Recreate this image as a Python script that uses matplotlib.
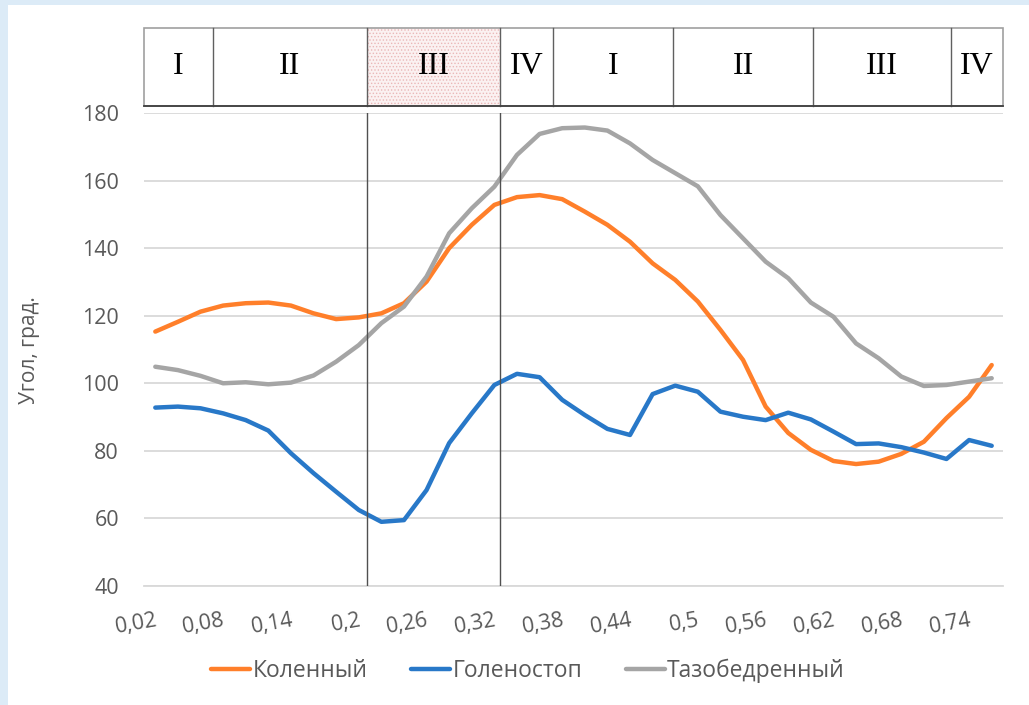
import numpy as np
import matplotlib
matplotlib.use('Agg')
import matplotlib.pyplot as plt
from matplotlib.patches import Rectangle

# phase of gait cycle, s
t_labels = ['0,02', '0,04', '0,06', '0,08', '0,1', '0,12', '0,14', '0,16', '0,18', '0,2',
            '0,22', '0,24', '0,26', '0,28', '0,3', '0,32', '0,34', '0,36', '0,38', '0,4',
            '0,42', '0,44', '0,46', '0,48', '0,5', '0,52', '0,54', '0,56', '0,58', '0,6',
            '0,62', '0,64', '0,66', '0,68', '0,7', '0,72', '0,74', '0,76']

knee = [115.3, 118.2, 121.2, 123.0, 123.7, 123.9, 123.0, 120.7, 119.0, 119.5, 120.7, 123.7,
        130.1, 140.0, 146.9, 152.8, 155.1, 155.7, 154.5, 150.8, 146.9, 141.9, 135.5, 130.6,
        124.2, 115.8, 106.9, 93.1, 85.3, 80.3, 77.0, 76.1, 76.8, 79.1, 82.7, 89.7, 96.0, 105.4]
ankle = [92.8, 93.1, 92.6, 91.1, 89.1, 86.0, 79.3, 73.4, 67.9, 62.5, 59.0, 59.5,
         68.4, 82.3, 91.1, 99.5, 102.8, 101.8, 95.1, 90.6, 86.5, 84.7, 96.8, 99.3,
         97.5, 91.6, 90.1, 89.1, 91.3, 89.3, 85.7, 82.0, 82.2, 81.1, 79.5, 77.6, 83.2, 81.5]
hip = [104.9, 103.9, 102.2, 100.0, 100.3, 99.7, 100.2, 102.3, 106.4, 111.3, 117.8, 122.7,
       131.6, 144.4, 151.8, 158.2, 167.6, 173.8, 175.5, 175.7, 174.8, 171.0, 166.1, 162.2,
       158.3, 149.8, 142.9, 136.0, 131.1, 123.9, 119.7, 111.8, 107.4, 102.0, 99.2, 99.5, 100.5, 101.5]

# phases (category-index boundaries)
phase_names = ['I', 'II', 'III', 'IV', 'I', 'II', 'III', 'IV']
phase_edges = [-0.5, 2.55, 9.36, 15.25, 17.59, 22.9, 29.1, 35.2, 37.5]
marked_lines = [9.36, 15.25]

plt.rcParams['font.family'] = ['Open Sans', 'DejaVu Sans']
plt.rcParams['hatch.linewidth'] = 0.6
txt_col = '#595959'

fig = plt.figure(figsize=(10.29, 7.05), dpi=100)
fig.patch.set_facecolor('white')
# light blue page edge
fig.patches.append(Rectangle((0, 0), 8 / 1029, 1, transform=fig.transFigure,
                             facecolor='#dcebf7', edgecolor='none', zorder=-10))
fig.patches.append(Rectangle((0, 1 - 5 / 705), 1, 5 / 705, transform=fig.transFigure,
                             facecolor='#dcebf7', edgecolor='none', zorder=-10))

ax = fig.add_axes([144 / 1029, 1 - 586 / 705, (1003 - 144) / 1029, (586 - 113) / 705])
ax.set_facecolor('white')
x = np.arange(len(t_labels))

ax.plot(x, knee, color='#FF7F2A', lw=3.2, label='Коленный', solid_capstyle='round')
ax.plot(x, ankle, color='#2878C8', lw=3.2, label='Голеностоп', solid_capstyle='round')
ax.plot(x, hip, color='#A5A5A5', lw=3.2, label='Тазобедренный', solid_capstyle='round')

for xv in marked_lines:
    ax.axvline(xv, color='#505050', lw=1, zorder=5)

ax.set_xlim(-0.5, len(t_labels) - 0.5)
ax.set_ylim(40, 180)
ax.set_yticks(range(40, 181, 20))
ax.grid(axis='y', color='#d9d9d9', lw=1.3)
ax.set_axisbelow(True)
for s in ['left', 'right', 'top']:
    ax.spines[s].set_visible(False)
ax.spines['bottom'].set_color('#d9d9d9')
ax.spines['bottom'].set_linewidth(1.3)

ax.set_xticks(x[::3])
ax.set_xticklabels(t_labels[::3], rotation=10, ha='right', va='top', rotation_mode='anchor')
ax.tick_params(axis='x', length=0, pad=17, labelsize=15.5, colors=txt_col)
ax.tick_params(axis='y', length=0, pad=18, labelsize=15.5, colors=txt_col)

fig.text(0.029, 0.503, 'Угол, град.', rotation=90, ha='center', va='center',
         fontsize=15, color=txt_col)

# phase table above the plot
axt = fig.add_axes([144 / 1029, 1 - 106 / 705, (1003 - 144) / 1029, (106 - 28) / 705])
axt.set_xlim(ax.get_xlim())
axt.set_ylim(0, 1)
axt.axis('off')
for i, name in enumerate(phase_names):
    a, b = phase_edges[i], phase_edges[i + 1]
    if i == 2:
        axt.add_patch(Rectangle((a, 0), b - a, 1, facecolor='#fbf1f1', edgecolor='#eab8b8',
                                hatch='.....', lw=0))
    axt.text((a + b) / 2, 0.5, name, ha='center', va='center', fontsize=23,
             family='Liberation Serif', color='black')
axt.add_patch(Rectangle((phase_edges[0], 0), phase_edges[-1] - phase_edges[0], 1,
                        facecolor='none', edgecolor='#a0a0a0', lw=1.2, clip_on=False))
for e in phase_edges[1:-1]:
    axt.plot([e, e], [0, 1], color='#606060', lw=1, clip_on=False)
axt.plot([phase_edges[0], phase_edges[-1]], [0, 0], color='#404040', lw=1.3, clip_on=False)

fig.legend(loc='center', bbox_to_anchor=(0.513, 0.048), ncol=3, frameon=False,
           fontsize=16.5, handlelength=1.7, handletextpad=0.1, columnspacing=1.9,
           labelcolor=txt_col)

fig.savefig('out.png', dpi=100)
